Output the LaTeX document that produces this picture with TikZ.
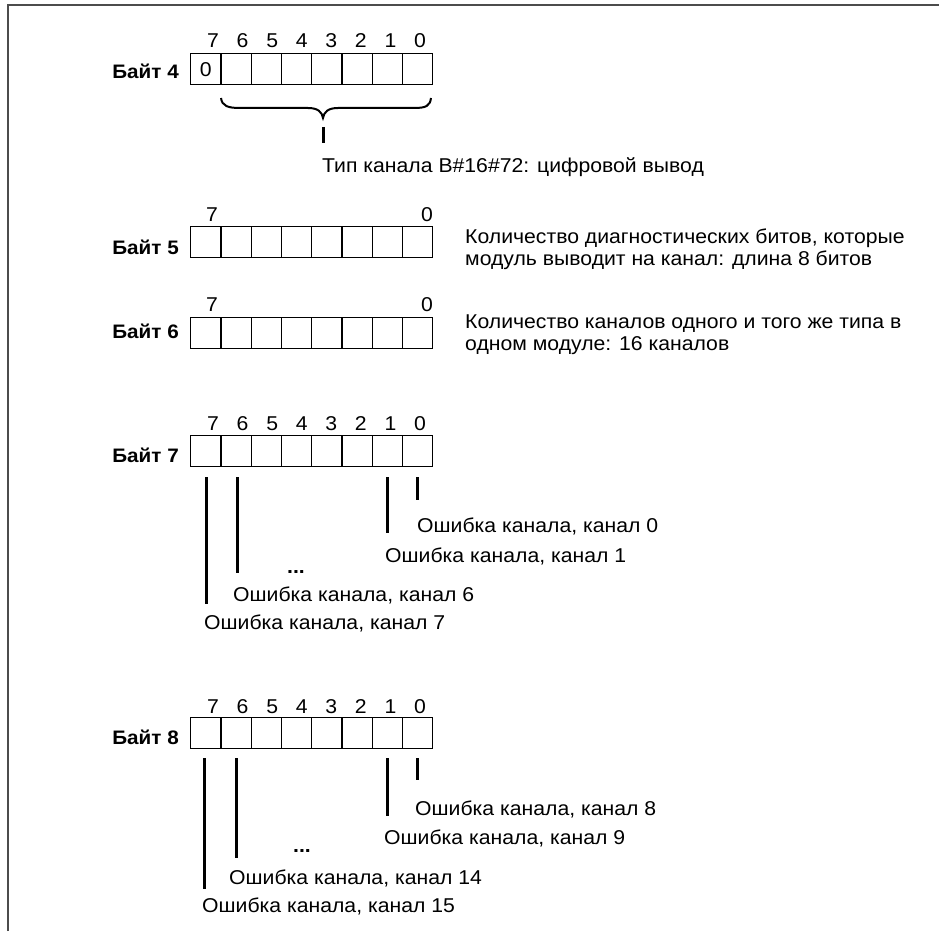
\documentclass[tikz,border=0pt]{standalone}
\usepackage{fontspec}
\setmainfont[FakeStretch=1.06]{Liberation Sans}
\newcommand{\fs}{\fontsize{20}{22}\selectfont}
\begin{document}
\begin{tikzpicture}[x=1pt,y=-1pt,
  cell/.style={draw, line width=1.3pt, minimum width=30.25pt, minimum height=31pt, inner sep=0pt, anchor=north west, font=\fs},
  txt/.style={font=\fs, inner sep=0pt, anchor=base west},
  lbl/.style={font=\fontsize{19.5}{22}\selectfont\bfseries, inner sep=0pt, anchor=base east},
  num/.style={font=\fs, inner sep=0pt, anchor=base},
  bar/.style={line width=3pt},
  thinbar/.style={line width=2.5pt},
  frame/.style={draw=black!70, line width=1.6pt}]
\useasboundingbox (0,0) rectangle (939,931);
\draw[frame] (8,931) -- (8,5) -- (939,5);

% ---------- Byte 4
\node[lbl] (l4) at (179,79) {Байт 4};
\foreach \i in {0,...,7} \node[cell] (b4c\i) at ({190+30.25*(7-\i)},53) {};
\node[num] (z4) at (b4c7.center) [anchor=center] {0};
\foreach \i in {0,...,7} \node[num] (n4\i) at ({420-29.57*\i},48) {\i};
\draw[line width=2pt] (221,98) .. controls (222,106) and (228,108) .. (240,108) -- (308,108)
  .. controls (318,108) and (322,112) .. (323,118)
  .. controls (324,112) and (328,108) .. (338,108) -- (414,108)
  .. controls (426,108) and (430,106) .. (431,98);
\coordinate (bt) at (323,127);
\coordinate (bb) at (323,143);
\draw[bar] (bt) -- (bb);
\node[txt] (t4) at (322,172) {Тип канала B\#16\#72: цифровой вывод};

% ---------- Byte 5
\node[lbl] (l5) at (179,254) {Байт 5};
\foreach \i in {0,...,7} \node[cell] (b5c\i) at ({190+30.25*(7-\i)},226) {};
\node[num] (n57) at (212,221) {7};
\node[num] (n50) at (427,221) {0};
\node[txt] (t5a) at (465,243) {Количество диагностических битов, которые};
\node[txt] (t5b) at (465,265) {модуль выводит на канал: длина 8 битов};

% ---------- Byte 6
\node[lbl] (l6) at (179,338) {Байт 6};
\foreach \i in {0,...,7} \node[cell] (b6c\i) at ({190+30.25*(7-\i)},317) {};
\node[num] (n67) at (212,311) {7};
\node[num] (n60) at (427,311) {0};
\node[txt] (t6a) at (465,328) {Количество каналов одного и того же типа в};
\node[txt] (t6b) at (465,350) {одном модуле: 16 каналов};

% ---------- Byte 7
\node[lbl] (l7) at (179,462) {Байт 7};
\foreach \i in {0,...,7} \node[cell] (b7c\i) at ({190+30.25*(7-\i)},435) {};
\foreach \i in {0,...,7} \node[num] (n7\i) at ({420-29.57*\i},430) {\i};
\coordinate (r7t) at (0,477);
\coordinate (r7a) at (0,604);
\coordinate (r7b) at (0,573);
\coordinate (r7c) at (0,533);
\coordinate (r7d) at (0,500);
\draw[bar] ([xshift=1pt]b7c7.south |- r7t) -- ([xshift=1pt]b7c7.south |- r7a);
\draw[bar] ([xshift=1pt]b7c6.south |- r7t) -- ([xshift=1pt]b7c6.south |- r7b);
\draw[bar] (b7c1.south |- r7t) -- (b7c1.south |- r7c);
\draw[thinbar] (b7c0.south |- r7t) -- (b7c0.south |- r7d);
\node[txt] (e0) at (417,532) {Ошибка канала, канал 0};
\node[txt] (e1) at (385,562) {Ошибка канала, канал 1};
\node[txt] (d7) at (287,573) {\textbf{...}};
\node[txt] (e6) at (233,601) {Ошибка канала, канал 6};
\node[txt] (e7) at (204,629) {Ошибка канала, канал 7};

% ---------- Byte 8
\node[lbl] (l8) at (179,744) {Байт 8};
\foreach \i in {0,...,7} \node[cell] (b8c\i) at ({190+30.25*(7-\i)},717) {};
\foreach \i in {0,...,7} \node[num] (n8\i) at ({420-29.57*\i},713) {\i};
\coordinate (r8t) at (0,758);
\coordinate (r8a) at (0,889);
\coordinate (r8b) at (0,858);
\coordinate (r8c) at (0,816);
\coordinate (r8d) at (0,780);
\draw[bar] ([xshift=-1pt]b8c7.south |- r8t) -- ([xshift=-1pt]b8c7.south |- r8a);
\draw[bar] (b8c6.south |- r8t) -- (b8c6.south |- r8b);
\draw[bar] (b8c1.south |- r8t) -- (b8c1.south |- r8c);
\draw[thinbar] (b8c0.south |- r8t) -- (b8c0.south |- r8d);
\node[txt] (e8) at (415,815) {Ошибка канала, канал 8};
\node[txt] (e9) at (384,844) {Ошибка канала, канал 9};
\node[txt] (d8) at (293,852) {\textbf{...}};
\node[txt] (e14) at (229,884) {Ошибка канала, канал 14};
\node[txt] (e15) at (202,912) {Ошибка канала, канал 15};
\end{tikzpicture}
\end{document}
